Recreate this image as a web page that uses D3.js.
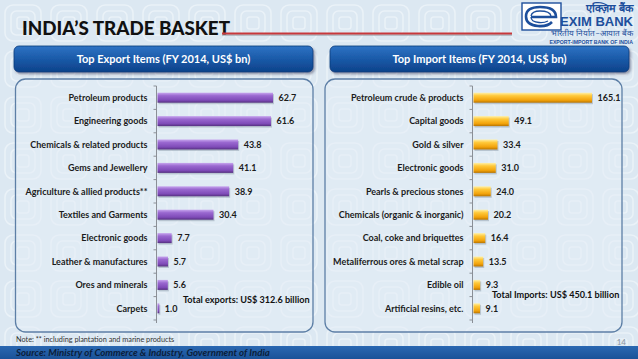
<!DOCTYPE html>
<html><head><meta charset="utf-8">
<script src="https://cdn.jsdelivr.net/npm/d3@7"></script>
<style>body{margin:0;background:#dfeaf3;} svg{display:block;font-family:Lato,'Open Sans',sans-serif;}</style>
</head><body><svg id="c" width="638" height="359"></svg>
<script>
const exportCategories = ["Petroleum products","Engineering goods","Chemicals & related products","Gems and Jewellery","Agriculture & allied products**","Textiles and Garments","Electronic goods","Leather & manufactures","Ores and minerals","Carpets"];
const exportValues = [62.7,61.6,43.8,41.1,38.9,30.4,7.7,5.7,5.6,1.0];
const importCategories = ["Petroleum crude & products","Capital goods","Gold & silver","Electronic goods","Pearls & precious stones","Chemicals (organic & inorganic)","Coal, coke and briquettes","Metaliferrous ores & metal scrap","Edible oil","Artificial resins, etc."];
const importValues = [165.1,49.1,33.4,31.0,24.0,20.2,16.4,13.5,9.3,9.1];
const exportTotal = "Total exports: US$ 312.6 billion";
const importTotal = "Total Imports: US$ 450.1 billion";
const titleText = "INDIA’S TRADE BASKET";
const exportHeader = "Top Export Items (FY 2014, US$ bn)";
const importHeader = "Top Import Items (FY 2014, US$ bn)";
const noteText = "Note: ** including plantation and marine products";
const sourceText = "Source: Ministry of Commerce & Industry, Government of India";
const pageNumber = "14";

const svg = d3.select("#c");
const defs = svg.append("defs");

// background pattern
const pat = defs.append("pattern").attr("id","bgpat").attr("width",46).attr("height",46).attr("patternUnits","userSpaceOnUse");
pat.append("rect").attr("width",46).attr("height",46).attr("fill","#dce8f2");
[18,12,6].forEach(r=>{
  pat.append("rect").attr("x",23-r).attr("y",23-r).attr("width",2*r).attr("height",2*r).attr("rx",r*0.45)
    .attr("fill","none").attr("stroke","#eaf2f8").attr("stroke-width",1.6);
});
svg.append("rect").attr("width",638).attr("height",359).attr("fill","url(#bgpat)");

function lin(id, stops, vertical=true){
  const g = defs.append("linearGradient").attr("id",id).attr("x1",0).attr("y1",0).attr("x2",vertical?0:1).attr("y2",vertical?1:0);
  stops.forEach(([o,c])=>g.append("stop").attr("offset",o).attr("stop-color",c));
}
lin("gPurple",[[0,"#c7a6ee"],[0.3,"#9a68d0"],[0.75,"#7f4bb8"],[1,"#55307f"]]);
lin("gOrange",[[0,"#fff0a8"],[0.3,"#ffc93a"],[0.75,"#f2a20a"],[1,"#b87400"]]);
lin("gHeader",[[0,"#2f73c4"],[0.5,"#1a5aa8"],[1,"#0d428a"]]);
lin("gBand",[[0,"#2a68b2"],[1,"#1a5298"]]);
const sh = defs.append("filter").attr("id","shadow").attr("x","-5%").attr("y","-20%").attr("width","115%").attr("height","160%");
sh.append("feDropShadow").attr("dx",1.5).attr("dy",2).attr("stdDeviation",1.2).attr("flood-color","#335").attr("flood-opacity",0.45);

// Title
svg.append("text").attr("x",22).attr("y",35).attr("font-size",18.8).attr("font-weight","900").attr("fill","#111")
  .attr("font-family","Lato, sans-serif").text(titleText);
svg.append("line").attr("x1",222).attr("x2",512).attr("y1",35).attr("y2",35).attr("stroke","#9aa0a8").attr("stroke-width",2).attr("opacity",0.6);
svg.append("line").attr("x1",222).attr("x2",512).attr("y1",33.5).attr("y2",33.5).attr("stroke","#c8383c").attr("stroke-width",2);

// Logo
const logo = svg.append("g");
logo.append("rect").attr("x",522).attr("y",3).attr("width",39).attr("height",27).attr("fill","#fff").attr("stroke","#1d4f9c").attr("stroke-width",1.4);
logo.append("path").attr("d","M552,22 Q547,27 538,26 Q526,25 526,16.5 Q526,7 540,7 Q556,7 556,17 L531,17")
  .attr("fill","none").attr("stroke","#1d4f9c").attr("stroke-width",2.6);
logo.append("path").attr("d","M548,21 Q544,23 539,22.5 Q531,22 531,17 M531,16 Q532,11 540,11 Q550,11 551,16")
  .attr("fill","none").attr("stroke","#1d4f9c").attr("stroke-width",1.3);
logo.append("text").attr("x",633).attr("y",11.5).attr("text-anchor","end").attr("font-size",11).attr("fill","#1d4f9c").attr("font-weight","bold").text("एक्ज़िम बैंक");
logo.append("text").attr("x",633).attr("y",25.5).attr("text-anchor","end").attr("font-size",13).attr("font-weight","bold")
  .attr("font-family","Liberation Sans, Arial, sans-serif").attr("fill","#1d4f9c").text("EXIM BANK");
logo.append("text").attr("x",633).attr("y",35.5).attr("text-anchor","end").attr("font-size",8.2).attr("fill","#1d4f9c").text("भारतीय निर्यात–आयात बैंक");
logo.append("text").attr("x",633).attr("y",43.5).attr("text-anchor","end").attr("font-size",5.2).attr("font-weight","bold")
  .attr("font-family","Liberation Sans, Arial, sans-serif").attr("fill","#1d4f9c").text("EXPORT-IMPORT BANK OF INDIA");

// Headers
function header(x,w,label){
  svg.append("rect").attr("x",x).attr("y",46).attr("width",w).attr("height",26).attr("rx",5)
    .attr("fill","url(#gHeader)").attr("stroke","#0b3a7a").attr("stroke-width",0.8).attr("filter","url(#shadow)");
  svg.append("text").attr("x",x+w/2).attr("y",63).attr("text-anchor","middle").attr("font-size",11).attr("font-weight","bold")
    .attr("fill","#fff").text(label);
}
header(14,299,exportHeader);
header(330,299,importHeader);

// Panels
function panel(x,w){
  svg.append("rect").attr("x",x).attr("y",79).attr("width",w).attr("height",253).attr("rx",10)
    .attr("fill","#e3edf5").attr("fill-opacity",0.55).attr("stroke","#5d7fa6").attr("stroke-width",1.3);
}
panel(15.5,297.5);
panel(325,297);

// Charts
function chart(cats, vals, axisX, xMax, xEnd, grad, total, totalX, totalY){
  const g = svg.append("g");
  const y = d3.scaleBand().domain(cats).range([86,320]);
  const x = d3.scaleLinear().domain([0,xMax]).range([axisX+1, xEnd]);
  const bh = 10;
  g.append("line").attr("x1",axisX).attr("x2",axisX).attr("y1",y.range()[0]).attr("y2",y.range()[1]+3).attr("stroke","#8a8f96").attr("stroke-width",1);
  const bounds = cats.map(c=>y(c)).concat([y.range()[1]]);
  g.selectAll("line.tick").data(bounds).join("line").attr("class","tick")
    .attr("x1",axisX-3).attr("x2",axisX).attr("y1",d=>d).attr("y2",d=>d).attr("stroke","#8a8f96");
  const idx = d3.range(cats.length);
  g.selectAll("rect.sh").data(idx).join("rect").attr("class","sh")
    .attr("x",x(0)+1).attr("y",i=>y(cats[i])+y.bandwidth()/2-bh/2+1.5)
    .attr("width",i=>Math.max(1,x(vals[i])-x(0))).attr("height",bh).attr("fill","#6b7a8c").attr("opacity",0.35);
  g.selectAll("rect.bar").data(idx).join("rect").attr("class","bar")
    .attr("x",x(0)).attr("y",i=>y(cats[i])+y.bandwidth()/2-bh/2)
    .attr("width",i=>Math.max(1,x(vals[i])-x(0))).attr("height",bh).attr("fill",`url(#${grad})`);
  g.selectAll("text.cat").data(idx).join("text").attr("class","cat")
    .attr("x",axisX-9).attr("y",i=>y(cats[i])+y.bandwidth()/2+3.2).attr("text-anchor","end")
    .attr("font-size",9).attr("font-weight","bold").attr("fill","#1b1b1b").text(i=>cats[i]);
  g.selectAll("text.val").data(idx).join("text").attr("class","val")
    .attr("x",i=>x(vals[i])+5.5).attr("y",i=>y(cats[i])+y.bandwidth()/2+3.2)
    .attr("font-size",9).attr("font-weight","bold").attr("fill","#1b1b1b").text(i=>vals[i].toFixed(1));
  g.append("text").attr("x",totalX).attr("y",totalY).attr("font-size",9.1).attr("font-weight","bold").attr("fill","#111").text(total);
}
chart(exportCategories, exportValues, 156.5, 62.7, 273, "gPurple", exportTotal, 183, 302.5);
chart(importCategories, importValues, 472.5, 165.1, 592, "gOrange", importTotal, 492, 297.5);

// Note, source, page number
svg.append("text").attr("x",16).attr("y",342).attr("font-size",7.3).attr("fill","#333").text(noteText);
svg.append("rect").attr("x",0).attr("y",346).attr("width",638).attr("height",13).attr("fill","url(#gBand)");
svg.append("text").attr("x",16).attr("y",355.5).attr("font-size",9.7).attr("font-weight","bold").attr("font-style","italic").attr("fill","#0b1e3a").text(sourceText);
svg.append("text").attr("x",626).attr("y",344.5).attr("text-anchor","end").attr("font-size",8).attr("fill","#8c96a0").text(pageNumber);
</script></body></html>
